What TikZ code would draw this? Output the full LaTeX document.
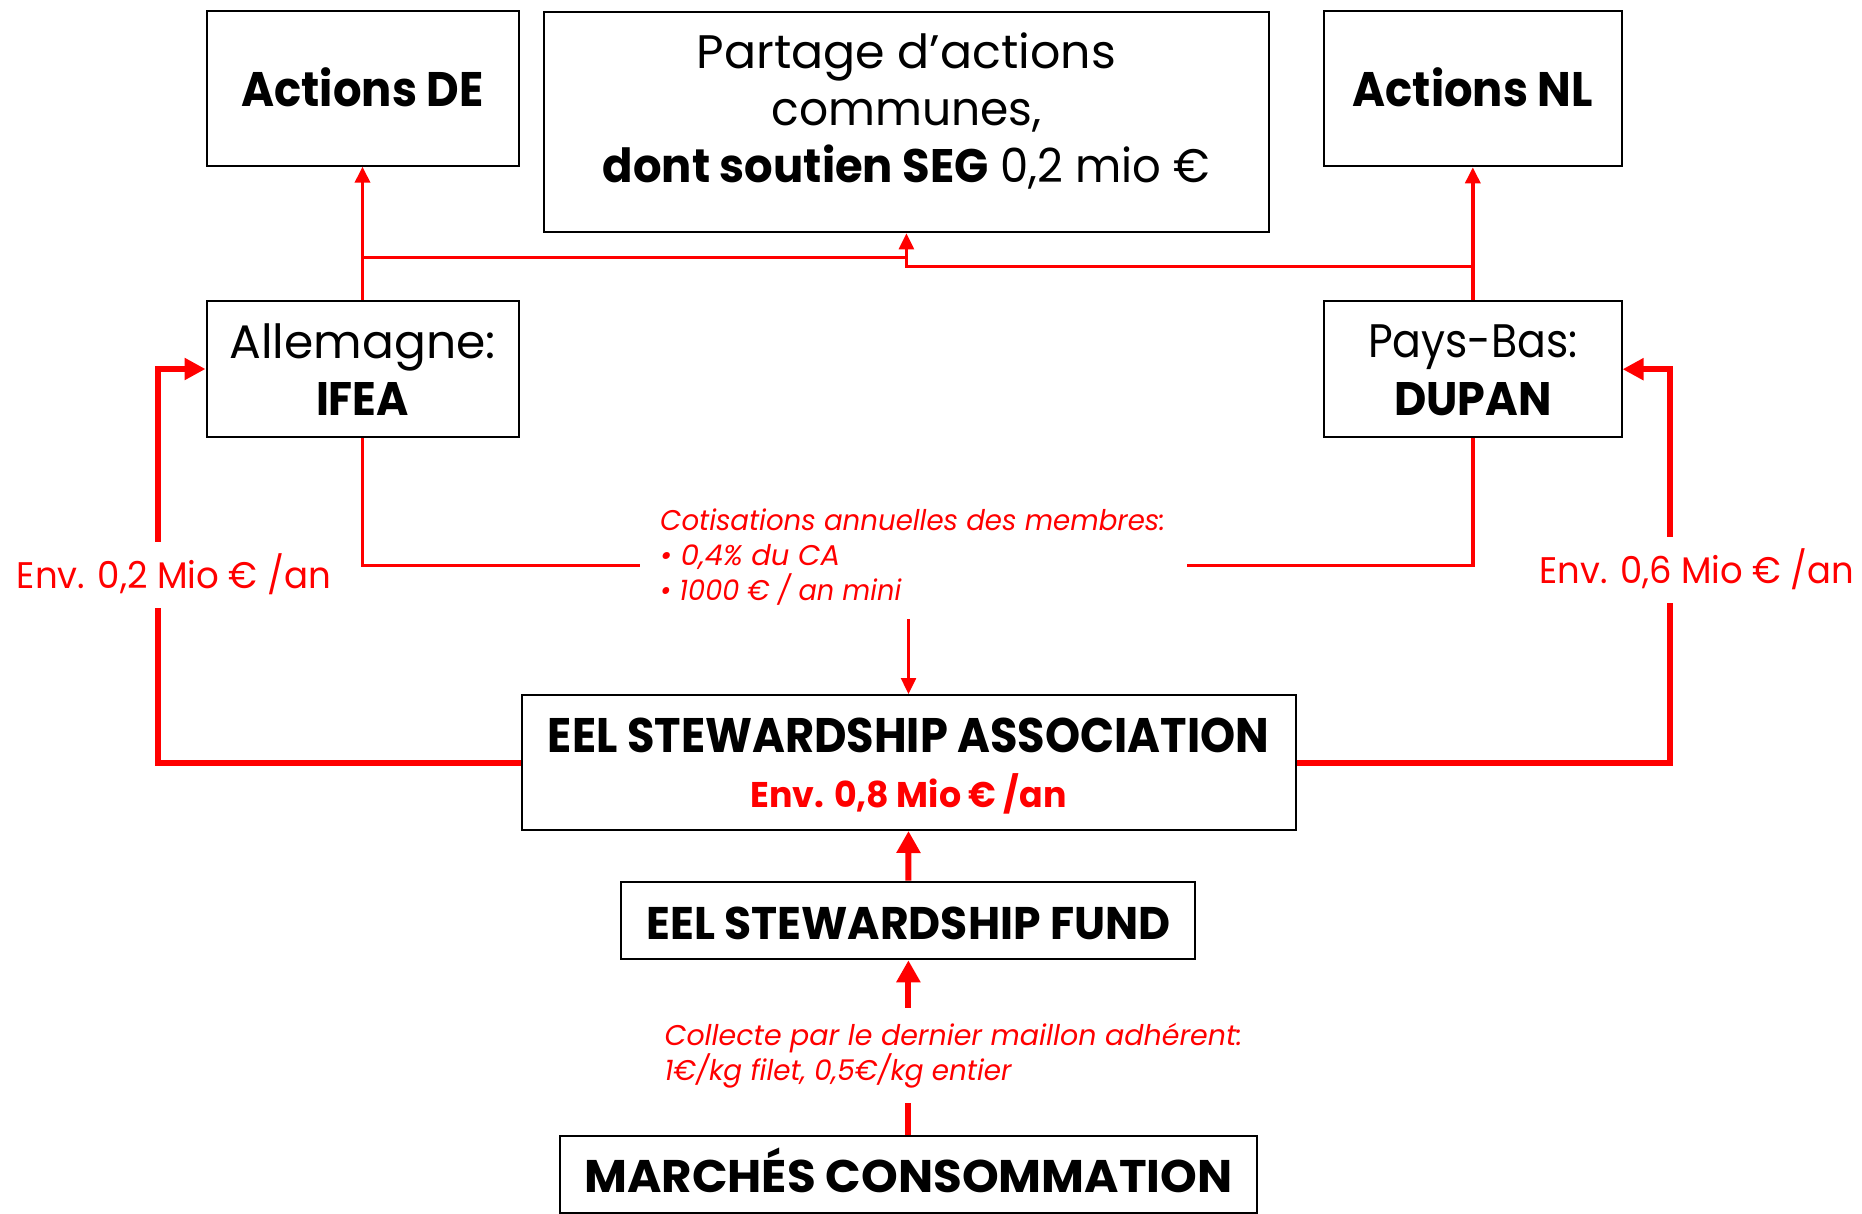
\documentclass[tikz,border=0pt]{standalone}
\usepackage{graphicx}
\usepackage{fontspec}
\setmainfont{Poppins}
\usetikzlibrary{arrows.meta}
\newcommand{\fw}[2]{\resizebox{#1pt}{\height}{#2}}
\begin{document}
\begin{tikzpicture}[x=1pt,y=-1pt,
  box/.style={draw=black, line width=2pt, inner sep=0pt, align=center, fill=white},
  bigb/.style={font=\bfseries\fontsize{48.5}{58}\selectfont},
  thinln/.style={draw=red, line width=2.5pt},
  medln/.style={draw=red, line width=3.5pt},
  thickln/.style={draw=red, line width=6pt},
  thintip/.style={-{Triangle[length=16pt,width=15pt]}},
  sidetip/.style={-{Triangle[length=21pt,width=21pt]}},
  bottip/.style={-{Triangle[length=22pt,width=23pt]}},
  envlab/.style={text=red, fill=white, anchor=base west, inner xsep=0pt, inner ysep=20pt,
    text height=26pt, text depth=0pt, font=\fontsize{37}{44}\selectfont},
  notelab/.style={text=red, anchor=base west, inner xsep=0pt, align=left,
    font=\itshape\fontsize{28.5}{35}\selectfont}
]
\fill[white] (0,0) rectangle (1862,1214);
\useasboundingbox (0,0) rectangle (1862,1214);

% boxes
\node[box, bigb, minimum width=312pt, minimum height=155pt, text height=36pt, text depth=0pt]
  (de) at (362.5,88.2) {\fw{242}{Actions DE}};
\node[box, minimum width=725pt, minimum height=220pt, text height=160pt, text depth=39.2pt,
  font=\fontsize{47}{57.2}\selectfont]
  (partage) at (906.4,122.3) {\fw{419}{Partage d’actions}\\ \fw{270}{communes,}\\ \fw{607}{\textbf{dont soutien SEG} 0,2 mio €}};
\node[box, bigb, minimum width=297.5pt, minimum height=155.3pt, text height=36pt, text depth=0pt]
  (nl) at (1472.8,88.7) {\fw{240}{Actions NL}};
\node[box, minimum width=312pt, minimum height=136pt, text height=100pt, text depth=8pt,
  font=\fontsize{47}{56.7}\selectfont]
  (ifea) at (362.5,369) {\fw{266}{Allemagne:}\\ \fw{93}{\textbf{IFEA}}};
\node[box, minimum width=297.5pt, minimum height=136pt, text height=100pt, text depth=8.4pt,
  font=\fontsize{47}{57.7}\selectfont]
  (pb) at (1472.8,369.2) {\fw{209.6}{Pays-Bas:}\\ \fw{157.5}{\textbf{DUPAN}}};
\node[box, minimum width=774pt, minimum height=135pt, text height=100pt, text depth=11pt,
  font=\bfseries\fontsize{48.5}{55}\selectfont]
  (assoc) at (908.5,762.5) {\fw{721}{EEL STEWARDSHIP ASSOCIATION}\\ {\color{red}\fontsize{35.7}{55}\selectfont\fw{316}{Env. 0,8 Mio € /an}}};
\node[box, minimum width=574pt, minimum height=77.6pt, text height=37pt, text depth=0pt,
  font=\bfseries\fontsize{45.7}{55}\selectfont]
  (fund) at (908.4,920.5) {\fw{524}{EEL STEWARDSHIP FUND}};
\node[box, minimum width=696.4pt, minimum height=77pt, text height=36.2pt, text depth=0pt,
  font=\bfseries\fontsize{45.7}{55}\selectfont]
  (marches) at (908.4,1174.2) {\fw{648}{MARCHÉS CONSOMMATION}};

% coordinates for junctions
\coordinate (jde) at (362.5,257.3);
\coordinate (jpl) at (906.4,257.3);
\coordinate (jpr) at (906.4,266.7);
\coordinate (jnl) at (1472.8,266.7);
\coordinate (cl) at (640,565.7);
\coordinate (cr) at (1187,565.7);
\coordinate (cb) at (908.5,619);
\coordinate (ll) at (158,762.5);
\coordinate (lu) at (158,369);
\coordinate (rl) at (1670,762.5);
\coordinate (ru) at (1670,369.2);

% upper connectors
\draw[medln, thintip] (ifea.north) -- (de.south);
\draw[medln, thintip] (pb.north) -- (nl.south);
\draw[thinln] (jde) -- (jpl);
\draw[thinln, thintip] (jnl) -- (jpr) -- (partage.south);

% member fees
\draw[medln] (ifea.south) |- (cl);
\draw[medln] (pb.south) |- (cr);
\node[notelab] (cotis) at (660,600) {\fw{505}{Cotisations annuelles des membres:}\\ \fw{180}{• 0,4\% du CA}\\ \fw{241}{• 1000 € / an mini}};
\draw[thinln, thintip] (cb) -- (assoc.north);

% thick side connectors
\draw[thickln, sidetip] (assoc.west) -- (ll) -- (lu) -- (ifea.west);
\draw[thickln, sidetip] (assoc.east) -- (rl) -- (ru) -- (pb.east);
\node[envlab] (envde) at (16.6,588.3) {\fw{314}{Env. 0,2 Mio € /an}};
\node[envlab] (envnl) at (1539.6,583) {\fw{314.4}{Env. 0,6 Mio € /an}};

% bottom connectors
\draw[thickln, bottip] (fund.north) -- (assoc.south);
\draw[thickln, bottip] (marches.north) -- (fund.south);
\node[notelab, fill=white, inner ysep=15pt] (collecte) at (664.3,1080) {\fw{578}{Collecte par le dernier maillon adhérent:}\\ \fw{347}{1€/kg filet, 0,5€/kg entier}};
\end{tikzpicture}
\end{document}
